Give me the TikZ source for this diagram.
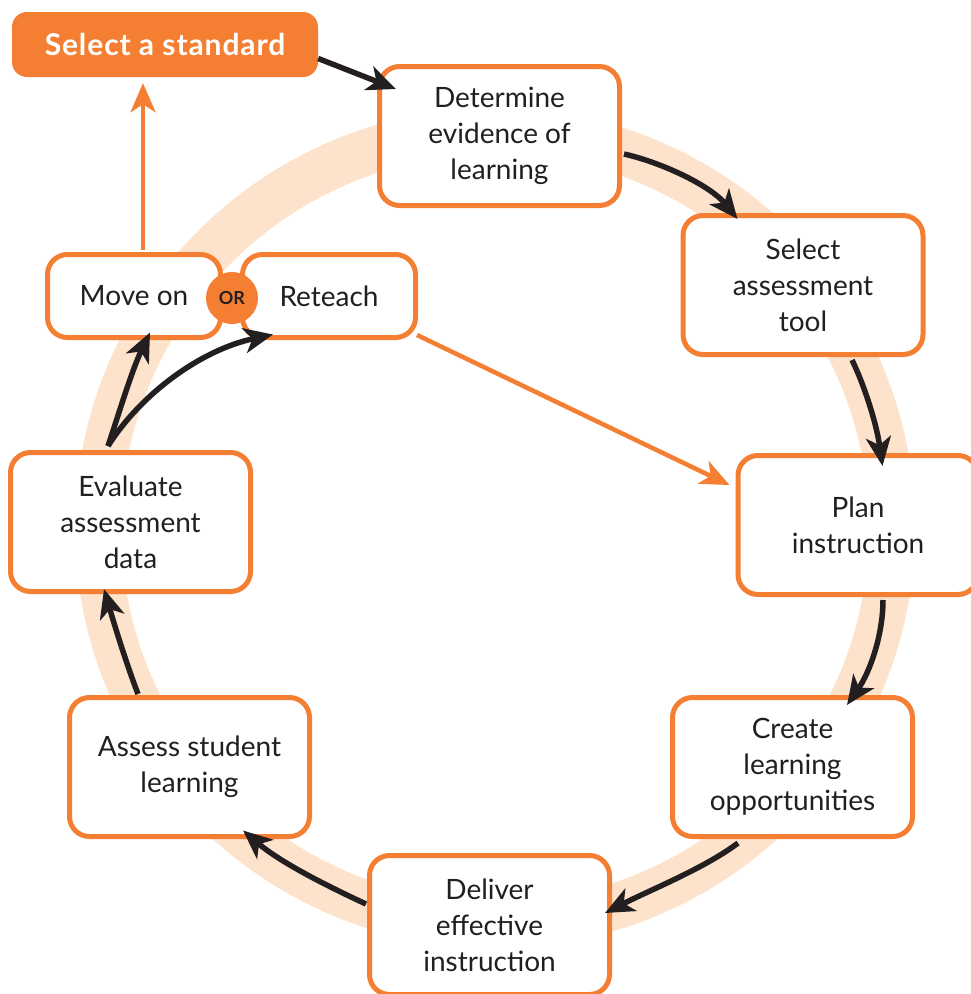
\documentclass[tikz,border=0pt]{standalone}
\usepackage{fontspec}
\setmainfont{Lato}
\usetikzlibrary{arrows.meta}
\definecolor{orng}{HTML}{F47F33}
\definecolor{ringc}{HTML}{FDE2CC}
\definecolor{ink}{HTML}{231F20}
\begin{document}
\begin{tikzpicture}[x=1pt,y=-1pt,
  stagebox/.style={draw=orng, line width=5pt, rounded corners=20pt, fill=white,
    minimum width=240pt, minimum height=139pt, align=center, inner sep=0pt,
    text=ink, font=\fontsize{28}{36}\selectfont},
  smallbox/.style={stagebox, minimum width=173pt, minimum height=83pt},
  startbox/.style={fill=orng, rounded corners=15pt, minimum width=306pt, minimum height=65pt,
    inner sep=0pt, text=white, font=\fontsize{30}{34}\selectfont\bfseries\addfontfeatures{LetterSpace=3}},
  orcirc/.style={circle, fill=orng, minimum size=52pt, inner sep=0pt, text=ink,
    font=\fontsize{18}{20}\selectfont\bfseries},
  flow/.style={draw=ink, line width=5.5pt, -{Stealth[length=29pt,width=25pt,inset=8pt]}},
  oflow/.style={draw=orng, line width=4.5pt, -{Stealth[length=29pt,width=25pt,inset=8pt]}}
]
\useasboundingbox (0,0) rectangle (971,994);
\fill[white] (0,0) rectangle (971,994);
% ring
\draw[ringc, line width=46pt] (495,528) circle[radius=397];

% nodes
\node[startbox] (std) at (165,44.5) {Select a standard};
\node[stagebox] (det) at (499.5,136) {Determine\\evidence of\\learning};
\node[stagebox] (sel) at (803,285) {Select\\assessment\\tool};
\node[stagebox] (plan) at (858,525) {Plan\\instruction};
\node[stagebox] (create) at (792.5,767) {Create\\learning\\opportunities};
\node[stagebox] (deliver) at (489.5,925) {Deliver\\effective\\instruction};
\node[stagebox] (assess) at (189.5,767) {Assess student\\learning};
\node[stagebox] (eval) at (130.5,522) {Evaluate\\assessment\\data};
\node[smallbox] (move) at (134,296) {Move on};
\node[smallbox] (ret) at (329,296) {Reteach};
\node[orcirc] (or) at (232,298) {OR};

% black flow arrows
\draw[flow] ([shift={(0,14)}]std.east) -- ([shift={(19,25)}]det.north west);
\draw[flow] ([shift={(2,18)}]det.east) .. controls (660,162) and (710,185) .. ([shift={(57,6)}]sel.north west);
\draw[flow] ([shift={(49,3)}]sel.south) .. controls (862,380) and (876,420) .. ([shift={(147,13)}]plan.north west);
\draw[flow] ([shift={(25,3)}]plan.south) .. controls (883,635) and (870,672) .. ([shift={(54.5,10)}]create.north);
\draw[flow] ([shift={(-54.5,4)}]create.south) .. controls (705,868) and (650,890) .. ([shift={(-7,-12)}]deliver.east);
\draw[flow] ([shift={(-1,-21)}]deliver.west) .. controls (325,885) and (280,862) .. ([shift={(53.5,-8.5)}]assess.south);
\draw[flow] ([shift={(-51.5,-1)}]assess.north) .. controls (125,660) and (113,620) .. ([shift={(-26.5,-5)}]eval.south);
\draw[flow] ([shift={(-22.5,-4)}]eval.north) .. controls (120,410) and (132,370) .. ([shift={(16,-7.5)}]move.south);
\draw[flow] ([shift={(-22.5,-4)}]eval.north) .. controls (140,395) and (200,350) .. ([shift={(-56,-5.5)}]ret.south);

% orange arrows
\draw[oflow] ([shift={(9,-2)}]move.north) -- ([shift={(-22,6)}]std.south);
\draw[oflow] ([shift={(-1,-5)}]ret.south east) -- ([shift={(-6,-40)}]plan.west);
\end{tikzpicture}
\end{document}
